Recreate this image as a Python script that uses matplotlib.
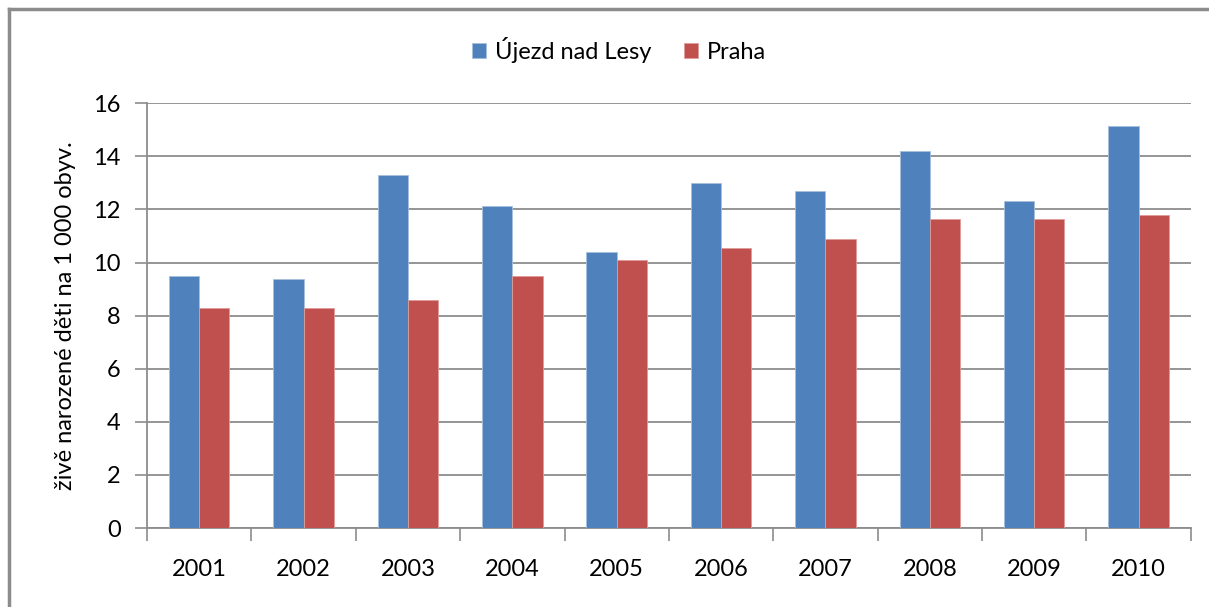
import numpy as np
import matplotlib.pyplot as plt
from matplotlib.lines import Line2D

plt.rcParams['font.family'] = ['Lato', 'DejaVu Sans']

roky = ['2001', '2002', '2003', '2004', '2005', '2006', '2007', '2008', '2009', '2010']
ujezd = [9.48, 9.38, 13.29, 12.12, 10.40, 12.99, 12.70, 14.22, 12.31, 15.13]
praha = [8.30, 8.30, 8.59, 9.48, 10.11, 10.54, 10.89, 11.65, 11.65, 11.78]

modra = '#4F81BD'
cervena = '#C0504D'
seda = '#8C8C8C'

fig = plt.figure(figsize=(12.09, 6.07), dpi=100)
ax = fig.add_axes([0.1216, 0.1301, 0.8633, 0.6997])

x = np.arange(len(roky))
w = 0.29
ax.bar(x - w / 2, ujezd, w, color=modra, edgecolor='#A7C0DE', linewidth=0.6,
       label='Újezd nad Lesy', zorder=3)
ax.bar(x + w / 2, praha, w, color=cervena, edgecolor='#DE9C9A', linewidth=0.6,
       label='Praha', zorder=3)

ax.set_xlim(-0.5, len(roky) - 0.5)
ax.set_ylim(0, 16)
ax.set_yticks(np.arange(0, 17, 2))
ax.yaxis.grid(True, color=seda, linewidth=1.3, zorder=0)
ax.set_axisbelow(True)

ax.set_xticks(x)
ax.set_xticklabels(roky)
ax.set_xticks(np.arange(-0.5, len(roky)), minor=True)
ax.tick_params(axis='x', which='major', length=0, pad=22, labelsize=17)
ax.tick_params(axis='x', which='minor', length=9, width=1.2, color=seda, direction='out')
ax.tick_params(axis='y', length=9, width=1.2, color=seda, pad=10, labelsize=17)

for s in ['top', 'right']:
    ax.spines[s].set_visible(False)
for s in ['left', 'bottom']:
    ax.spines[s].set_color(seda)
    ax.spines[s].set_linewidth(1.3)

ax.set_ylabel('živě narozené děti na 1 000 obyv.', fontsize=17, labelpad=12)

fig.legend(loc='center', bbox_to_anchor=(0.512, 1 - 50 / 607), ncol=2, frameon=False,
           fontsize=17, handlelength=0.6, handleheight=0.6, handletextpad=0.35,
           columnspacing=1.4)

# ramecek grafu (jen nahore a vlevo)
fig.add_artist(Line2D([9 / 1209, 9 / 1209], [0, 1 - 9 / 607], transform=fig.transFigure,
                      color='#8C8C8C', linewidth=2.5))
fig.add_artist(Line2D([9 / 1209, 1], [1 - 9 / 607, 1 - 9 / 607], transform=fig.transFigure,
                      color='#8C8C8C', linewidth=2.5))

fig.savefig('out.png', dpi=100)
